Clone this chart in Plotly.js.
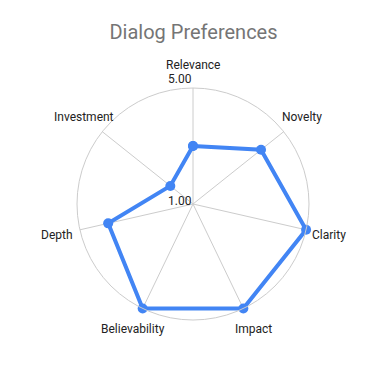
<!DOCTYPE html>
<html>
<head>
<meta charset="utf-8">
<script src="https://cdn.plot.ly/plotly-3.0.1.min.js"></script>
<style>html,body{margin:0;padding:0;background:#fff;}#chart{width:387px;height:371px;}</style>
</head>
<body>
<div id="chart"></div>
<script>
const categories = ["Relevance", "Novelty", "Clarity", "Impact", "Believability", "Depth", "Investment"];
const values = [3, 4, 5, 5, 5, 4, 2];
const radialTickVals = [1, 5];
const radialTickText = ["1.00", "5.00"];

const trace = {
  type: "scatterpolar",
  r: values.concat([values[0]]),
  theta: categories.concat([categories[0]]),
  mode: "lines+markers",
  line: {color: "#4285F4", width: 4},
  marker: {color: "#4285F4", size: 10},
  hoverinfo: "none"
};

const labelFont = {family: "Roboto, sans-serif", size: 12, color: "#222"};

// category labels centred along each spoke, just outside the circle
const labelRadius = 0.6; // in units of the polar domain (circle radius = 0.5)
const catAnnotations = categories.map((c, i) => {
  const a = i * 2 * Math.PI / categories.length;
  return {
    text: c, xref: "paper", yref: "paper",
    x: 0.5 + labelRadius * Math.sin(a), y: 0.5 + labelRadius * Math.cos(a),
    xanchor: "center", yanchor: "middle", showarrow: false, font: labelFont
  };
});

// radial tick labels drawn beside the axis
const tickLabelPos = {"1.00": [0.444, 0.515], "5.00": [0.444, 1.039]};
const tickAnnotations = radialTickText.map(t => ({
  text: t, xref: "paper", yref: "paper",
  x: tickLabelPos[t][0], y: tickLabelPos[t][1],
  xanchor: "center", yanchor: "middle", showarrow: false, font: labelFont
}));

const layout = {
  width: 387, height: 371,
  paper_bgcolor: "#fff",
  font: {family: "Roboto, sans-serif", size: 12, color: "#222"},
  title: {
    text: "Dialog Preferences",
    font: {family: "Roboto, sans-serif", size: 20, color: "#757575"},
    x: 0.5, xanchor: "center", y: 0.914, yanchor: "middle", yref: "container"
  },
  margin: {l: 77, r: 78, t: 88, b: 51},
  showlegend: false,
  annotations: catAnnotations.concat(tickAnnotations),
  polar: {
    bgcolor: "#fff",
    angularaxis: {
      direction: "clockwise", rotation: 90,
      gridcolor: "#cccccc", linecolor: "#cccccc", linewidth: 1,
      ticks: "", showticklabels: false
    },
    radialaxis: {
      range: [1, 5], tickvals: radialTickVals,
      angle: 90, showticklabels: false,
      showline: false, ticks: "", gridcolor: "#cccccc"
    }
  }
};

Plotly.newPlot("chart", [trace], layout, {displayModeBar: false, staticPlot: true});
</script>
</body>
</html>
